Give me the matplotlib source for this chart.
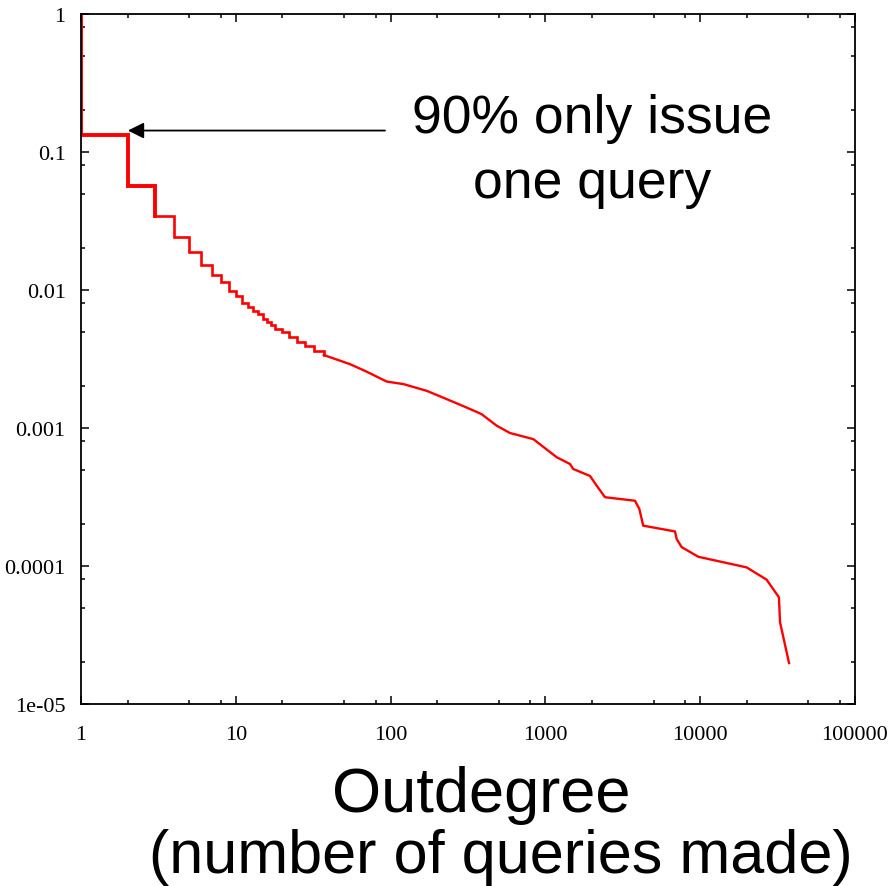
import matplotlib
matplotlib.use("Agg")
import matplotlib.pyplot as plt
from matplotlib.ticker import LogLocator, NullFormatter

# =========================
# DATA
# =========================

# step part: outdegree value and fraction of users above it
step_x = [1, 1, 2, 3]
step_y = [1.0, 0.133, 0.0567, 0.0345]

step2_x = [3, 4, 5, 6, 7, 8, 9, 10, 11, 12, 13, 14, 15, 16, 17, 18, 20, 22, 25, 28, 32, 37]
step2_y = [0.0345, 0.0243, 0.0188, 0.0153, 0.0129, 0.0114, 0.00989, 0.0091, 0.00805,
           0.00753, 0.00704, 0.0067, 0.00616, 0.00586, 0.00557, 0.00521, 0.00496,
           0.00456, 0.0042, 0.00393, 0.00361, 0.00338]

# smooth tail
tail_x = [37, 54.7, 70, 94.4, 121, 171, 230, 295, 342, 387, 484, 590, 836, 1183,
          1443, 1510, 1942, 2145, 2427, 3793, 4045, 4285, 6874, 7047, 7590, 9727,
          19960, 26860, 32260, 32800, 37500]
tail_y = [0.00338, 0.0029, 0.00256, 0.00217, 0.00208, 0.00186, 0.00162, 0.00144,
          0.00134, 0.00126, 0.00104, 0.00092, 0.00083, 0.000614, 0.000548, 0.000505,
          0.000449, 0.000382, 0.000315, 0.000297, 0.000259, 0.000196, 0.000178,
          0.000157, 0.000137, 0.0001166, 9.77e-5, 7.96e-5, 5.93e-5, 3.91e-5, 1.98e-5]

x_ticks = [1, 10, 100, 1000, 10000, 100000]
x_labels = ["1", "10", "100", "1000", "10000", "100000"]
y_ticks = [1e-5, 1e-4, 1e-3, 1e-2, 1e-1, 1]
y_labels = ["1e-05", "0.0001", "0.001", "0.01", "0.1", "1"]

# =========================
# FIGURE
# =========================

fig = plt.figure(figsize=(8.92, 8.87), dpi=100)
ax = fig.add_axes([0.0908, 0.2052, 0.8677, 0.7779])

ax.plot(step_x, step_y, color="red", lw=2.8, drawstyle="steps-post",
        solid_joinstyle="miter")
ax.plot(step2_x, step2_y, color="red", lw=1.9, drawstyle="steps-post",
        solid_joinstyle="miter")
ax.plot(tail_x, tail_y, color="red", lw=1.7)

ax.set_xscale("log")
ax.set_yscale("log")
ax.set_xlim(1, 100000)
ax.set_ylim(1e-5, 1)

ax.set_xticks(x_ticks)
ax.set_xticklabels(x_labels)
ax.set_yticks(y_ticks)
ax.set_yticklabels(y_labels)
ax.xaxis.set_minor_locator(LogLocator(base=10, subs=[2, 5, 8]))
ax.yaxis.set_minor_locator(LogLocator(base=10, subs=[2, 5, 8]))
ax.xaxis.set_minor_formatter(NullFormatter())
ax.yaxis.set_minor_formatter(NullFormatter())

ax.tick_params(which="both", direction="in", top=True, right=True, width=1.1,
               color="black")
ax.tick_params(which="major", length=6)
ax.tick_params(which="minor", length=3)
ax.tick_params(axis="x", pad=15)
ax.tick_params(axis="y", pad=11)
for lab in ax.get_xticklabels() + ax.get_yticklabels():
    lab.set_family("Liberation Serif")
    lab.set_fontsize(16)

for sp in ax.spines.values():
    sp.set_linewidth(1.3)

# =========================
# ANNOTATION
# =========================

ax.annotate("", xy=(2.01, 0.143), xytext=(92, 0.143),
            arrowprops=dict(arrowstyle="-|>", color="black", lw=1.3,
                            mutation_scale=24, shrinkA=0, shrinkB=0))

fig.text(0.664, 0.850, "90% only issue", ha="center", va="baseline",
         family="Liberation Sans", fontsize=38.5)
fig.text(0.664, 0.777, "one query", ha="center", va="baseline",
         family="Liberation Sans", fontsize=38.5)

fig.text(0.540, 0.0846, "Outdegree", ha="center", va="baseline",
         family="Liberation Sans", fontsize=45.5)
fig.text(0.562, 0.016, "(number of queries made)", ha="center", va="baseline",
         family="Liberation Sans", fontsize=44)

fig.savefig("out.png", dpi=100)
